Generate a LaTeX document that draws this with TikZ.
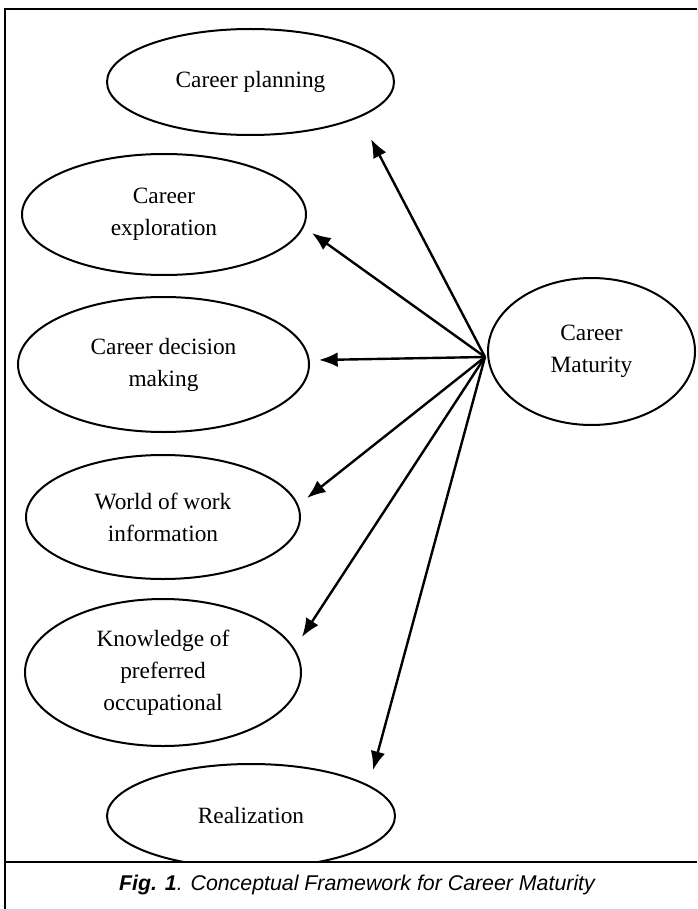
\documentclass[tikz,border=0pt]{standalone}
\usepackage{fontspec}
\setmainfont{Liberation Serif}
\newfontfamily\captionfont{Liberation Sans}
\usetikzlibrary{shapes.geometric,arrows.meta}

\begin{document}
\begin{tikzpicture}[x=0.75pt, y=-0.75pt, >={Latex[length=14pt,width=11pt]}]

    %
    % Styles for factors, arrows and frame
    %
    \tikzstyle{factorName} = [align=center, font={\fontsize{17.5}{24}\selectfont}, text=black]
    \tikzstyle{factor} = [factorName, draw, ellipse, line width=1.5pt, inner sep=0pt]
    \tikzstyle{pointer} = [black, line width=1.8pt, ->]
    \tikzstyle{frameLine} = [black, line width=1.5pt]
    \tikzstyle{captionText} = [font={\captionfont\itshape\fontsize{16}{19}\selectfont}]

    \useasboundingbox (0,0) rectangle (697,909);

    %
    % Position factors
    %
    \node[factor, name=planning, minimum width=287*0.75pt, minimum height=106*0.75pt]
      at (250.5,82) {Career planning};
    \node[factor, name=exploration, minimum width=284*0.75pt, minimum height=121*0.75pt]
      at (164,214.5) {Career\\exploration};
    \node[factor, name=decision, minimum width=291*0.75pt, minimum height=135*0.75pt]
      at (163.5,364.5) {Career decision\\making};
    \node[factor, name=world, minimum width=274*0.75pt, minimum height=124*0.75pt]
      at (163,517) {World of work\\information};
    \node[factor, name=knowledge, minimum width=276*0.75pt, minimum height=147*0.75pt]
      at (163,672.5) {Knowledge of\\preferred\\occupational};
    \node[factor, name=realization, minimum width=288*0.75pt, minimum height=104*0.75pt]
      at (251,816) {Realization};
    \node[factor, name=maturity, minimum width=207*0.75pt, minimum height=147*0.75pt]
      at (591.5,351.5) {Career\\Maturity};

    %
    % Arrow ends
    %
    \coordinate (hub) at (485,357);
    \coordinate (planningTip) at (371,139);
    \coordinate (explorationTip) at (312,233);
    \coordinate (decisionTip) at (319,360);
    \coordinate (worldTip) at (307,498);
    \coordinate (knowledgeTip) at (302,637);
    \coordinate (realizationTip) at (373,770);

    %
    % Connect maturity to factors
    %
    \foreach \tip in {planningTip, explorationTip, decisionTip, worldTip, knowledgeTip, realizationTip}
      \draw[pointer] (hub) -- (\tip);

    %
    % Frame and caption
    %
    \fill[white] (5,862) rectangle (697,909);
    \draw[frameLine] (697,9) -- (5,9) -- (5,909);
    \draw[frameLine] (5,862) -- (697,862);
    \node[captionText, name=caption] at (357,885) {\textbf{Fig. 1}. Conceptual Framework for Career Maturity};
  \end{tikzpicture}
\end{document}
